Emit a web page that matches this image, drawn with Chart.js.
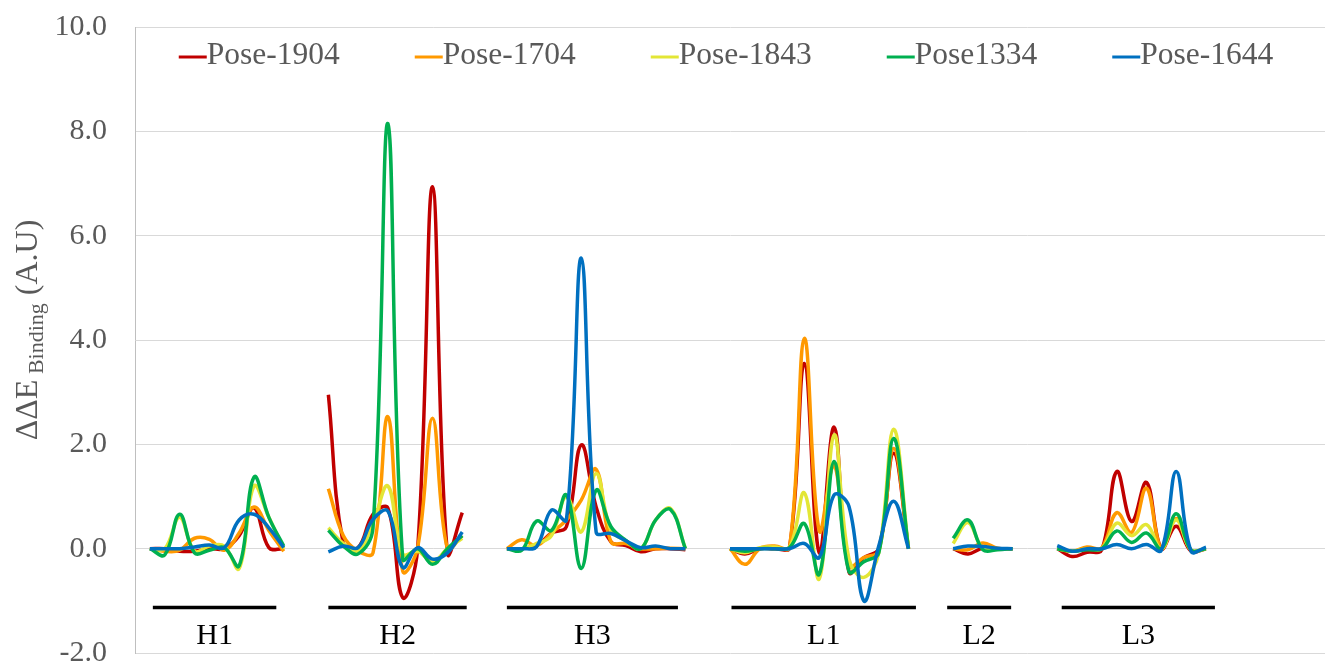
<!DOCTYPE html>
<html>
<head>
<meta charset="utf-8">
<script src="https://cdn.jsdelivr.net/npm/chart.js@4.4.0/dist/chart.umd.min.js"></script>
<style>
  html, body { margin: 0; padding: 0; background: #fff; }
  #wrap { width: 1332px; height: 667px; }
</style>
</head>
<body>
<div id="wrap"><canvas id="grafico" width="1332" height="667"></canvas></div>
<script>
// Valores (null = separación entre grupos)
const pose1904 = [
  0, 0, -0.05, -0.05, 0, 0, 0.25, 0.78, 0.02, 0,                 // H1
  null, null,
  2.95, 0.1, 0.02, 0.66, 0.78, -0.94, 0, 6.94, -0.08, 0.69,        // H2
  null, null,
  0, 0, 0.06, 0.3, 0.42, 1.99, 0.8, 0.13, 0.06, -0.06, 0, 0, -0.02, // H3
  null, null,
  0, -0.1, 0, 0, 0.02, 3.55, -0.08, 2.33, -0.45, -0.17, 0, 1.83, 0, // L1
  null, null,
  0, -0.1, 0.01, 0, 0,                                             // L2
  null, null,
  0, -0.15, -0.07, -0.02, 1.48, 0.52, 1.27, 0, 0.43, -0.05, 0      // L3
];
const pose1704 = [
  0, -0.05, -0.03, 0.2, 0.18, -0.03, 0.3, 0.8, 0.35, -0.05,
  null, null,
  1.15, 0.25, -0.05, -0.08, 2.53, -0.43, 0.02, 2.5, 0, 0.25,
  null, null,
  0, 0.17, 0.06, 0.3, 0.55, 0.93, 1.52, 0.13, 0.1, 0, 0, 0.01, 0,
  null, null,
  0, -0.3, 0, 0.05, 0.02, 4.03, 0.34, 1.6, -0.33, -0.17, -0.05, 1.92, 0,
  null, null,
  0, -0.02, 0.11, 0.01, 0,
  null, null,
  0, -0.05, 0.03, 0.02, 0.69, 0.31, 1.16, 0, 0.58, -0.03, 0
];
const pose1843 = [
  0, 0, 0.6, -0.05, 0.05, 0.05, -0.38, 1.2, 0.6, 0,
  null, null,
  0.4, 0.1, -0.05, 0.5, 1.2, -0.1, -0.05, -0.25, 0, 0.2,
  null, null,
  0, 0, 0.1, 0.25, 1.0, 0.32, 1.44, 0.35, 0.15, 0, 0.55, 0.77, 0,
  null, null,
  0, -0.08, 0.02, 0.03, 0.02, 1.07, -0.58, 2.18, -0.2, -0.55, -0.08, 2.29, 0,
  null, null,
  0.1, 0.5, 0, 0, 0,
  null, null,
  0, -0.05, 0, 0, 0.49, 0.25, 0.46, 0, 0.55, -0.03, 0
];
const pose1334 = [
  0, -0.12, 0.66, -0.08, -0.03, 0.02, -0.33, 1.37, 0.6, 0.05,
  null, null,
  0.35, 0.05, -0.1, 0.4, 8.15, -0.2, 0, -0.3, 0, 0.25,
  null, null,
  0, -0.03, 0.53, 0.35, 1.03, -0.38, 1.12, 0.42, 0.16, 0, 0.55, 0.75, 0,
  null, null,
  0, -0.05, 0, 0, 0.02, 0.48, -0.49, 1.67, -0.44, -0.25, -0.08, 2.11, 0,
  null, null,
  0.2, 0.55, -0.02, -0.02, 0,
  null, null,
  0, -0.05, -0.02, 0, 0.34, 0.12, 0.3, 0, 0.67, -0.03, 0
];
const pose1644 = [
  0, 0, 0, 0.03, 0.07, 0.02, 0.55, 0.66, 0.4, 0.02,
  null, null,
  -0.06, 0.05, 0.02, 0.56, 0.72, -0.36, 0.02, -0.2, -0.08, 0.32,
  null, null,
  0, 0, 0.04, 0.74, 0.55, 5.57, 0.32, 0.29, 0.15, 0.02, 0.05, 0, 0,
  null, null,
  0, 0, 0, 0, 0, 0.1, -0.17, 1.03, 0.81, -1.0, 0.05, 0.91, 0,
  null, null,
  0, 0.05, 0.04, 0.01, 0,
  null, null,
  0.06, -0.05, 0, 0, 0.08, 0, 0.08, -0.03, 1.48, -0.05, 0.03
];

const seriesNames = ['Pose-1904', 'Pose-1704', 'Pose-1843', 'Pose1334', 'Pose-1644'];
const seriesColors = ['#C00000', '#FF9900', '#E3E636', '#00B050', '#0070C0'];
const yTicks = [-2, 0, 2, 4, 6, 8, 10];

// Grupos: etiqueta y extensión de la barra negra (en índice de punto)
const groupLabels = ['H1', 'H2', 'H3', 'L1', 'L2', 'L3'];
const groupFrom = [0.2, 12.0, 24.0, 39.1, 53.6, 61.3];
const groupTo = [8.5, 21.3, 35.5, 51.5, 57.9, 71.6];

const leadNull = 1, tailNull = 8;
const totalCats = leadNull + pose1904.length + tailNull;
const labels = Array.from({ length: totalCats }, () => '');

function pad(arr) {
  return [...Array(leadNull).fill(null), ...arr, ...Array(tailNull).fill(null)];
}

const allSeries = [pose1904, pose1704, pose1843, pose1334, pose1644];
const datasets = allSeries.map((s, i) => ({
  label: seriesNames[i],
  data: pad(s),
  borderColor: seriesColors[i],
  backgroundColor: seriesColors[i],
  borderWidth: 3.5,
  pointRadius: 0,
  tension: 0.4,
  spanGaps: false,
  order: allSeries.length - i
}));

const FONT = '"Liberation Serif", "Times New Roman", serif';

// Leyenda dentro del área del gráfico
const leyenda = {
  id: 'leyenda',
  afterDraw(chart) {
    const c = chart.ctx;
    const area = chart.chartArea;
    c.save();
    c.font = '31.5px ' + FONT;
    c.textBaseline = 'middle';
    c.textAlign = 'left';
    const lineW = 28, gap = 75;
    const widths = seriesNames.map(n => c.measureText(n).width);
    const total = widths.reduce((a, b) => a + b, 0) + lineW * seriesNames.length + gap * (seriesNames.length - 1);
    let x = (area.left + area.right) / 2 - total / 2 - 4;
    const y = area.top + 29;
    seriesNames.forEach((n, i) => {
      c.strokeStyle = seriesColors[i];
      c.lineWidth = 3;
      c.beginPath();
      c.moveTo(x, y + 1);
      c.lineTo(x + lineW, y + 1);
      c.stroke();
      c.fillStyle = '#595959';
      c.fillText(n, x + lineW, y);
      x += lineW + widths[i] + gap;
    });
    c.restore();
  }
};

// Barras negras y nombres de los grupos
const grupos = {
  id: 'grupos',
  afterDraw(chart) {
    const c = chart.ctx;
    const xs = chart.scales.x, ys = chart.scales.y;
    c.save();
    c.strokeStyle = '#000';
    c.lineWidth = 3.5;
    c.fillStyle = '#000';
    c.font = '30px ' + FONT;
    c.textAlign = 'center';
    c.textBaseline = 'middle';
    groupLabels.forEach((g, i) => {
      const x0 = xs.getPixelForValue(groupFrom[i] + leadNull);
      const x1 = xs.getPixelForValue(groupTo[i] + leadNull);
      const yb = ys.getPixelForValue(-1.13);
      c.beginPath();
      c.moveTo(x0, yb);
      c.lineTo(x1, yb);
      c.stroke();
      c.fillText(g, (x0 + x1) / 2, ys.getPixelForValue(-1.68));
    });
    c.restore();
  }
};

// Título del eje Y con subíndice
const tituloY = {
  id: 'tituloY',
  afterDraw(chart) {
    const c = chart.ctx;
    const area = chart.chartArea;
    c.save();
    c.translate(37, (area.top + area.bottom) / 2 - 10);
    c.rotate(-Math.PI / 2);
    c.fillStyle = '#595959';
    c.textBaseline = 'alphabetic';
    const big = '32px ' + FONT, small = '22px ' + FONT;
    c.font = big;
    const w1 = c.measureText('ΔΔE').width;
    const w3 = c.measureText(' (A.U)').width;
    c.font = small;
    const w2 = c.measureText(' Binding').width;
    let x = -(w1 + w2 + w3) / 2;
    c.font = big;
    c.fillText('ΔΔE', x, 0);
    x += w1;
    c.font = small;
    c.fillText(' Binding', x, 6);
    x += w2;
    c.font = big;
    c.fillText(' (A.U)', x, 0);
    c.restore();
  }
};

const ctx = document.getElementById('grafico').getContext('2d');
const grafico = new Chart(ctx, {
  type: 'line',
  data: { labels: labels, datasets: datasets },
  options: {
    responsive: false,
    animation: false,
    devicePixelRatio: 1,
    layout: { padding: { top: 27, right: 7, bottom: 14, left: 0 } },
    plugins: {
      legend: { display: false },
      tooltip: { enabled: false }
    },
    scales: {
      x: { display: false },
      y: {
        min: yTicks[0],
        max: yTicks[yTicks.length - 1],
        afterBuildTicks: s => { s.ticks = yTicks.map(v => ({ value: v })); },
        afterFit: s => { s.width = 135; s.paddingTop = 0; s.paddingBottom = 0; },
        ticks: {
          callback: v => Number(v).toFixed(1),
          color: '#595959',
          padding: 28,
          font: { family: FONT, size: 30, lineHeight: 0.9 }
        },
        grid: { color: '#d9d9d9', drawTicks: false, lineWidth: 1 },
        border: { display: true, color: '#bfbfbf', width: 1 }
      }
    }
  },
  plugins: [leyenda, grupos, tituloY]
});
</script>
</body>
</html>
